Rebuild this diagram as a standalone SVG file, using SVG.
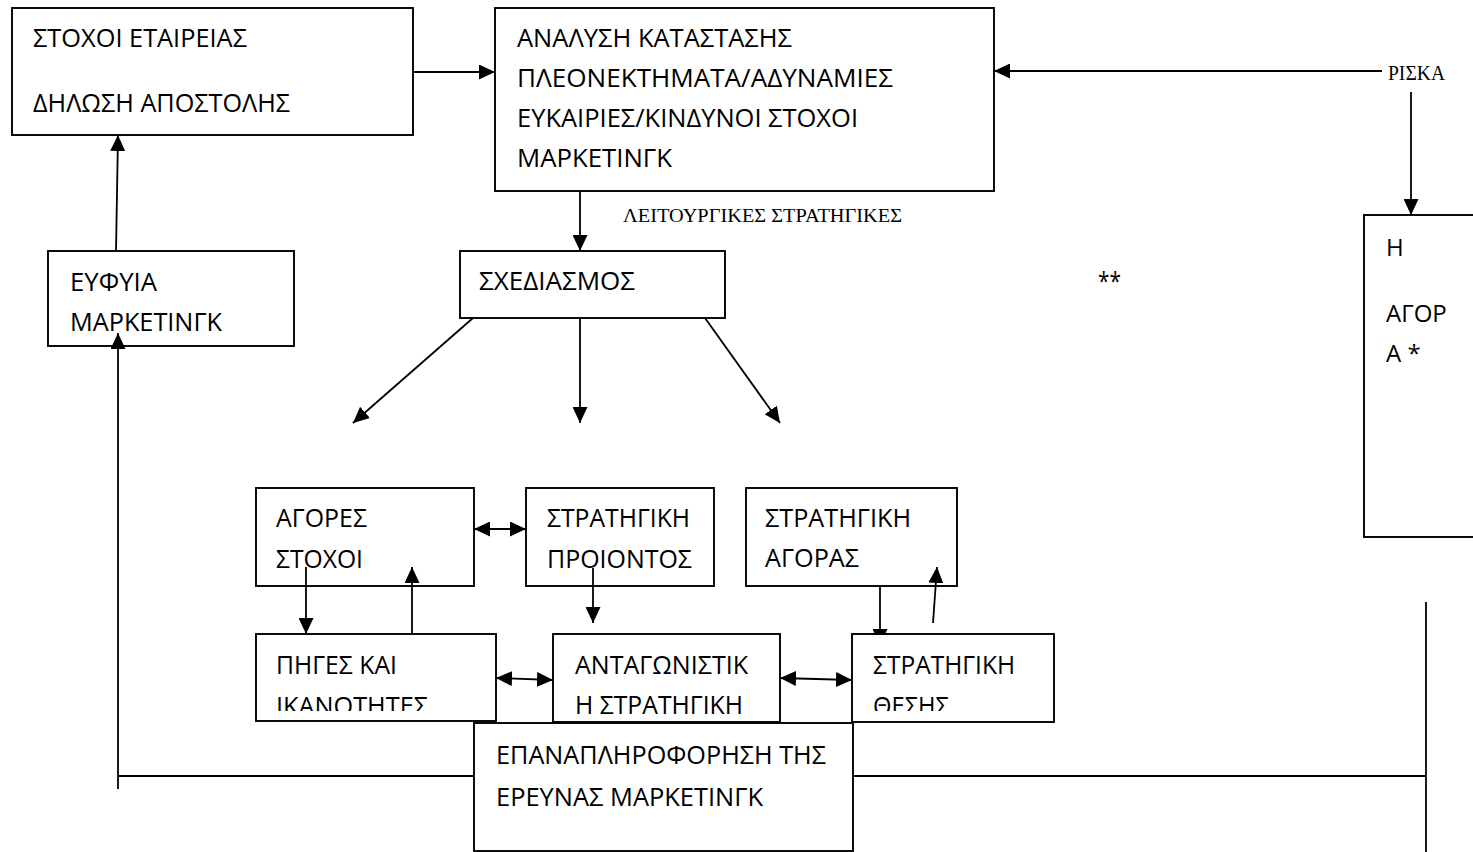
<svg xmlns="http://www.w3.org/2000/svg" width="1473" height="852" viewBox="0 0 1473 852">
<style>
.box{fill:#fff;stroke:#000;stroke-width:1.9}
.t{font-family:"Open Sans","Noto Sans",sans-serif;font-size:25px;fill:#000}
.tl{font-family:"Open Sans","Noto Sans",sans-serif;font-size:25px;fill:#000}
.s{font-family:"Liberation Serif","DejaVu Serif",serif;font-size:19.5px;fill:#000}
.c{stroke:#000;stroke-width:1.8;fill:none}
.a{marker-end:url(#ah)}
.d{marker-start:url(#ahs);marker-end:url(#ah)}
</style>
<defs>
<marker id="ah" viewBox="0 0 16 15" refX="16" refY="7.5" markerWidth="16" markerHeight="15" markerUnits="userSpaceOnUse" orient="auto"><path d="M0,0 L16,7.5 L0,15 z" fill="#000"/></marker>
<marker id="ahs" viewBox="0 0 16 15" refX="16" refY="7.5" markerWidth="16" markerHeight="15" markerUnits="userSpaceOnUse" orient="auto-start-reverse"><path d="M0,0 L16,7.5 L0,15 z" fill="#000"/></marker>
<clipPath id="clipPig"><rect x="256" y="634" width="240" height="77"/></clipPath>
<clipPath id="clipThesis"><rect x="852" y="634" width="202" height="77"/></clipPath>
<clipPath id="clipAg"><rect x="860" y="580" width="40" height="55"/></clipPath>
</defs>

<g id="n-stoxoi">
<rect class="box" x="12" y="8" width="401" height="127"/>
<text class="t" x="33" y="47" textLength="214" lengthAdjust="spacingAndGlyphs">ΣΤΟΧΟΙ ΕΤΑΙΡΕΙΑΣ</text>
<text class="t" x="33" y="112" textLength="257" lengthAdjust="spacingAndGlyphs">ΔΗΛΩΣΗ ΑΠΟΣΤΟΛΗΣ</text>
</g>
<g id="n-analysi">
<rect class="box" x="495" y="8" width="499" height="183"/>
<text class="t" x="517" y="47" textLength="275" lengthAdjust="spacingAndGlyphs">ΑΝΑΛΥΣΗ ΚΑΤΑΣΤΑΣΗΣ</text>
<text class="t" x="517" y="87" textLength="376" lengthAdjust="spacingAndGlyphs">ΠΛΕΟΝΕΚΤΗΜΑΤΑ/ΑΔΥΝΑΜΙΕΣ</text>
<text class="t" x="517" y="127" textLength="341" lengthAdjust="spacingAndGlyphs">ΕΥΚΑΙΡΙΕΣ/ΚΙΝΔΥΝΟΙ ΣΤΟΧΟΙ</text>
<text class="t" x="517" y="167" textLength="155" lengthAdjust="spacingAndGlyphs">ΜΑΡΚΕΤΙΝΓΚ</text>
</g>
<g id="n-eufyia">
<rect class="box" x="48" y="251" width="246" height="95"/>
<text class="t" x="70" y="291" textLength="87" lengthAdjust="spacingAndGlyphs">ΕΥΦΥΙΑ</text>
<text class="t" x="70" y="331" textLength="152" lengthAdjust="spacingAndGlyphs">ΜΑΡΚΕΤΙΝΓΚ</text>
</g>
<g id="n-sxediasmos">
<rect class="box" x="460" y="251" width="265" height="67"/>
<text class="t" x="479" y="290" textLength="156" lengthAdjust="spacingAndGlyphs">ΣΧΕΔΙΑΣΜΟΣ</text>
</g>
<g id="n-agores">
<rect class="box" x="256" y="488" width="218" height="98"/>
<text class="t" x="276" y="527" textLength="91" lengthAdjust="spacingAndGlyphs">ΑΓΟΡΕΣ</text>
<text class="t" x="276" y="568" textLength="87" lengthAdjust="spacingAndGlyphs">ΣΤΟΧΟΙ</text>
</g>
<g id="n-proion">
<rect class="box" x="526" y="488" width="188" height="98"/>
<text class="t" x="547" y="527" textLength="143" lengthAdjust="spacingAndGlyphs">ΣΤΡΑΤΗΓΙΚΗ</text>
<text class="t" x="547" y="568" textLength="145" lengthAdjust="spacingAndGlyphs">ΠΡΟΙΟΝΤΟΣ</text>
</g>
<g id="n-agoras">
<rect class="box" x="746" y="488" width="211" height="98"/>
<text class="t" x="765" y="527" textLength="146" lengthAdjust="spacingAndGlyphs">ΣΤΡΑΤΗΓΙΚΗ</text>
<text class="t" x="765" y="567" textLength="94" lengthAdjust="spacingAndGlyphs">ΑΓΟΡΑΣ</text>
</g>
<g id="n-piges">
<rect class="box" x="256" y="634" width="240" height="87"/>
<text class="tl" x="276" y="674" textLength="121" lengthAdjust="spacingAndGlyphs">ΠΗΓΕΣ ΚΑΙ</text>
<text class="tl" x="276" y="715" textLength="152" lengthAdjust="spacingAndGlyphs" clip-path="url(#clipPig)">ΙΚΑΝΟΤΗΤΕΣ</text>
</g>
<g id="n-antag">
<rect class="box" x="553" y="634" width="227" height="88"/>
<text class="tl" x="575" y="674" textLength="173" lengthAdjust="spacingAndGlyphs">ΑΝΤΑΓΩΝΙΣΤΙΚ</text>
<text class="tl" x="575" y="714" textLength="168" lengthAdjust="spacingAndGlyphs">Η ΣΤΡΑΤΗΓΙΚΗ</text>
</g>
<g id="n-thesis">
<rect class="box" x="852" y="634" width="202" height="88"/>
<text class="tl" x="873" y="674" textLength="142" lengthAdjust="spacingAndGlyphs">ΣΤΡΑΤΗΓΙΚΗ</text>
<text class="tl" x="873" y="715" textLength="76" lengthAdjust="spacingAndGlyphs" clip-path="url(#clipThesis)">ΘΕΣΗΣ</text>
</g>
<g id="n-epanapl">
<rect class="box" x="474" y="723" width="379" height="128"/>
<text class="tl" x="496" y="764" textLength="330" lengthAdjust="spacingAndGlyphs">ΕΠΑΝΑΠΛΗΡΟΦΟΡΗΣΗ ΤΗΣ</text>
<text class="tl" x="496" y="806" textLength="267" lengthAdjust="spacingAndGlyphs">ΕΡΕΥΝΑΣ ΜΑΡΚΕΤΙΝΓΚ</text>
</g>
<g id="n-agora">
<rect class="box" x="1364" y="215" width="120" height="322"/>
<text class="t" style="font-size:24px" x="1386" y="256">Η</text>
<text class="t" style="font-size:24px" x="1386" y="322">ΑΓΟΡ</text>
<text class="t" style="font-size:24px" x="1386" y="362">Α *</text>
</g>
<g id="labels">
<text class="s" x="623" y="222" textLength="279" lengthAdjust="spacingAndGlyphs">ΛΕΙΤΟΥΡΓΙΚΕΣ ΣΤΡΑΤΗΓΙΚΕΣ</text>
<text class="s" style="font-size:20px" x="1388" y="80" textLength="57" lengthAdjust="spacingAndGlyphs">ΡΙΣΚΑ</text>
<text class="t" x="1098" y="290" textLength="23" lengthAdjust="spacingAndGlyphs">**</text>
</g>

<g id="connectors">
<line class="c a" x1="413" y1="72" x2="495" y2="72"/>
<line class="c a" x1="1382" y1="71" x2="994" y2="71"/>
<line class="c a" x1="1411" y1="92" x2="1411" y2="215"/>
<line class="c a" x1="116" y1="251" x2="118" y2="135"/>
<line class="c a" x1="580" y1="191" x2="580" y2="251"/>
<line class="c a" x1="473" y1="318" x2="353" y2="423"/>
<line class="c a" x1="580" y1="318" x2="580" y2="423"/>
<line class="c a" x1="705" y1="318" x2="780" y2="423"/>
<line class="c a" x1="306" y1="567" x2="306" y2="634"/>
<line class="c a" x1="412" y1="634" x2="412" y2="567"/>
<line class="c d" x1="474" y1="529" x2="526" y2="529"/>
<line class="c a" x1="593" y1="568" x2="593" y2="623"/>
<g clip-path="url(#clipAg)"><line class="c a" x1="880" y1="586" x2="880" y2="645"/></g>
<line class="c a" x1="933" y1="623" x2="937" y2="567"/>
<line class="c d" x1="496" y1="678" x2="553" y2="680"/>
<line class="c d" x1="780" y1="678" x2="852" y2="680"/>
<line class="c a" x1="118" y1="789" x2="118" y2="333"/>
<line class="c" x1="117" y1="776" x2="474" y2="776"/>
<line class="c" x1="853" y1="776" x2="1426" y2="776"/>
<line class="c" x1="1426" y1="602" x2="1426" y2="852"/>
</g>
</svg>
